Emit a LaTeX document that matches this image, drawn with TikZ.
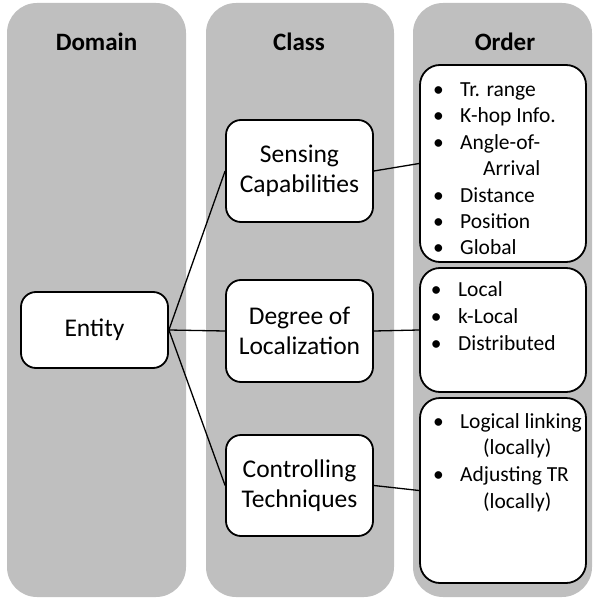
\documentclass[tikz,border=0pt]{standalone}
\usepackage{fontspec}
\setmainfont{Carlito}

\definecolor{colgray}{RGB}{191,191,191}

\newcommand{\bulitem}{\makebox[0pt][r]{\textbullet\hspace{16.5pt}}}
\newcommand{\wrapline}{\hspace{23pt}}

\tikzset{
  colbg/.style={fill=colgray, rounded corners=30pt, minimum height=594pt, inner sep=0pt},
  headtext/.style={font=\bfseries\fontsize{25}{29}\selectfont},
  mainbox/.style={draw, line width=1.8pt, fill=white, rounded corners=15pt,
    minimum width=147pt, align=center, font=\fontsize{25.5}{29.5}\selectfont},
  orderbox/.style={draw, line width=1.8pt, fill=white, rounded corners=20pt,
    minimum width=166pt, inner sep=0pt},
  listline/.style={anchor=base west, inner sep=0pt, font=\fontsize{21.5}{26}\selectfont},
  link/.style={line width=1.3pt}
}

\begin{document}
\begin{tikzpicture}[x=1pt,y=-1pt]

  \useasboundingbox (0,0) rectangle (593,599);

  % Columns
  \node[colbg, minimum width=179pt] (domaincol) at (96.5,300) {};
  \node[colbg, minimum width=188pt] (classcol) at (300,300) {};
  \node[colbg, minimum width=179pt] (ordercol) at (502.5,300) {};

  % Headers
  \node[headtext] (domainhead) at (96.5,42) {Domain};
  \node[headtext] (classhead) at (299,42) {Class};
  \node[headtext] (orderhead) at (505,42) {Order};

  % Domain
  \node[mainbox, minimum height=76pt] (entity) at (94.5,330) {Entity};

  % Classes
  \node[mainbox, minimum height=102pt] (sensing) at (299.5,171) {Sensing\\Capabilities};
  \node[mainbox, minimum height=102pt] (degree) at (299.5,331) {Degree of\\Localization};
  \node[mainbox, minimum height=101pt] (control) at (299.5,485.5) {Controlling\\Techniques};

  % Orders
  \node[orderbox, minimum height=197pt] (sensorder) at (503,163.5) {};
  \node[orderbox, minimum height=124pt] (degorder) at (503,330) {};
  \node[orderbox, minimum height=185pt] (ctrlorder) at (503,490.5) {};

  % Links entity -> classes
  \draw[link] (entity.east) -- (sensing.west);
  \draw[link] (entity.east) -- (degree.west);
  \draw[link] (entity.east) -- (control.west);

  % Links classes -> orders
  \draw[link] (sensing.east) -- (sensorder.west);
  \draw[link] (degree.east) -- (degorder.west);
  \draw[link] (control.east) -- (ctrlorder.west);

  % Sensing list
  \foreach \txt [count=\i from 0] in {\bulitem Tr. range, \bulitem K-hop Info.,
      \bulitem Angle-of-, \wrapline Arrival, \bulitem Distance, \bulitem Position,
      \bulitem Global}
    \node[listline] (sens-\i) at (460,96.5+26.4*\i) {\txt};

  % Localization list
  \foreach \txt [count=\i from 0] in {\bulitem Local, \bulitem k-Local, \bulitem Distributed}
    \node[listline] (deg-\i) at (458,296+27*\i) {\txt};

  % Controlling list
  \foreach \txt [count=\i from 0] in {\bulitem Logical linking, \wrapline (locally),
      \bulitem Adjusting TR, \wrapline (locally)}
    \node[listline] (ctrl-\i) at (460,428.3+26.6*\i) {\txt};

\end{tikzpicture}
\end{document}
